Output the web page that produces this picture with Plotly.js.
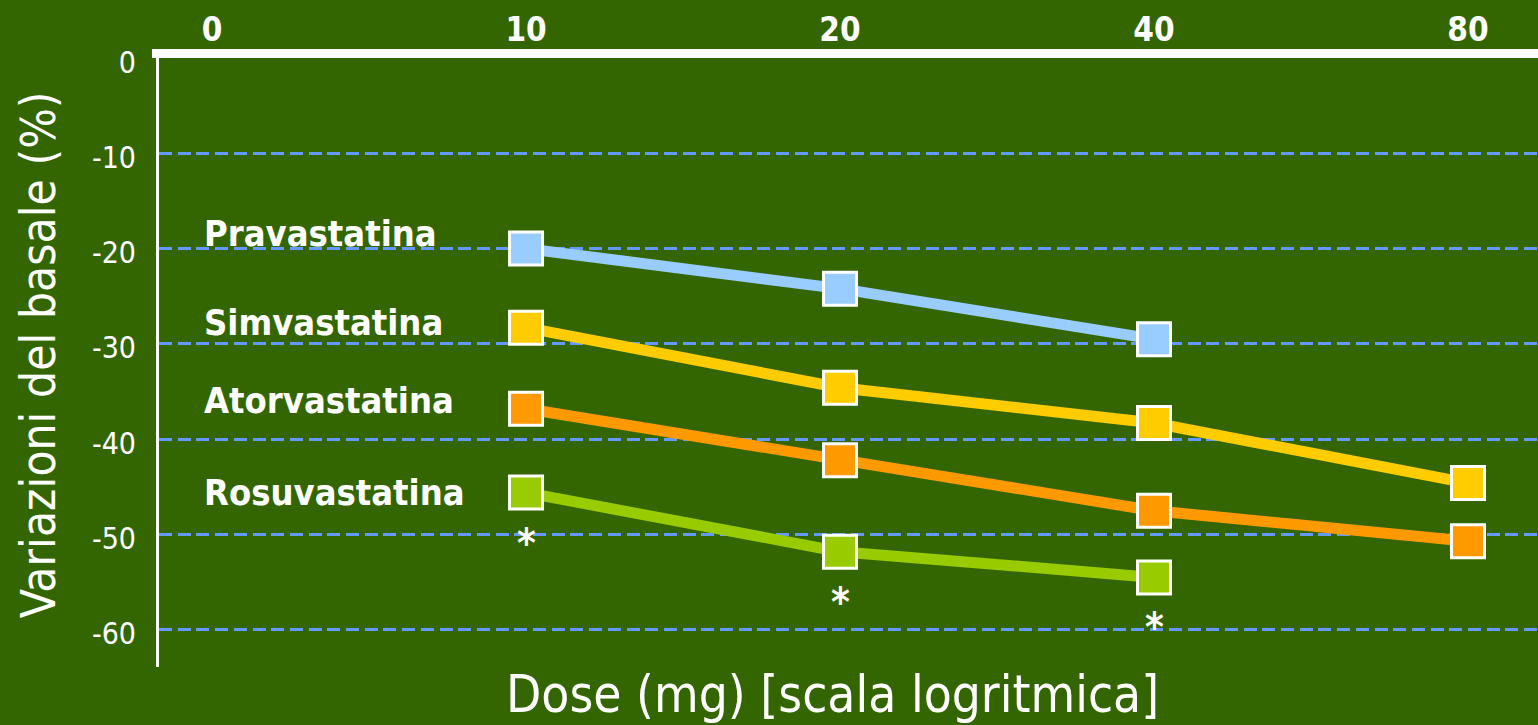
<!DOCTYPE html>
<html>
<head>
<meta charset="utf-8">
<script src="https://cdn.plot.ly/plotly-3.0.1.min.js"></script>
<style>
  html, body { margin: 0; padding: 0; background: #336600; }
  #chart { width: 1538px; height: 725px; }
</style>
</head>
<body>
<div id="chart"></div>
<script>
// Dose axis (log scale shown as evenly spaced steps)
const doseLabels = ['0', '10', '20', '40', '80'];
const doses = ['10', '20', '40', '80'];

// Percentage change from baseline per statin
const pravastatina = [-20.0, -24.2, -29.5];
const simvastatina = [-28.3, -34.6, -38.3, -44.6];
const atorvastatina = [-36.8, -42.2, -47.5, -50.7];
const rosuvastatina = [-45.6, -51.8, -54.5];

const yTicks = [0, -10, -20, -30, -40, -50, -60];

const seriesNames = ['Pravastatina', 'Simvastatina', 'Atorvastatina', 'Rosuvastatina'];
const seriesValues = [pravastatina, simvastatina, atorvastatina, rosuvastatina];
const seriesColors = ['#99CCFF', '#FFCC00', '#FF9900', '#99CC00'];

// Label heights (in axis units) for the series names on the left
const nameLabelY = [-18.4, -27.7, -35.9, -45.6];

const FONT = "'DejaVu Sans Condensed', 'DejaVu Sans', sans-serif";
const posOf = d => doseLabels.indexOf(d);

const traces = seriesValues.map((vals, i) => ({
  type: 'scatter',
  mode: 'lines+markers',
  name: seriesNames[i],
  x: doses.slice(0, vals.length).map(posOf),
  y: vals,
  line: { color: seriesColors[i], width: 11 },
  marker: { symbol: 'square', size: 33, color: seriesColors[i], line: { color: '#FFFFFF', width: 3 } },
  hoverinfo: 'x+y'
}));

const annotations = [];
seriesNames.forEach((n, i) => {
  annotations.push({
    text: '<b>' + n + '</b>', xref: 'paper', yref: 'y', x: 0.031, y: nameLabelY[i],
    xanchor: 'left', yanchor: 'middle', showarrow: false,
    font: { family: FONT, size: 36, color: '#FFFFFF' }
  });
});
// Significance marks under the rosuvastatin points
rosuvastatina.forEach((v, i) => {
  annotations.push({
    text: '<b>*</b>', xref: 'x', yref: 'y', x: posOf(doses[i]), y: v, yshift: -50,
    xanchor: 'center', yanchor: 'middle', showarrow: false,
    font: { family: FONT, size: 40, color: '#FFFFFF' }
  });
});
annotations.push({
  text: 'Variazioni del basale (%)', xref: 'paper', yref: 'paper', x: -0.0877, y: 0.512,
  xanchor: 'center', yanchor: 'middle', textangle: -90, showarrow: false,
  font: { family: FONT, size: 47.5, color: '#FFFFFF' }
});
annotations.push({
  text: 'Dose (mg) [scala logritmica]', xref: 'paper', yref: 'paper', x: 0.4885, y: -0.045,
  xanchor: 'center', yanchor: 'middle', showarrow: false,
  font: { family: FONT, size: 51, color: '#FFFFFF' }
});

const layout = {
  width: 1538, height: 725,
  paper_bgcolor: '#336600', plot_bgcolor: '#336600',
  margin: { l: 159, r: 0, t: 58, b: 58 },
  showlegend: false,
  font: { family: FONT, color: '#FFFFFF' },
  xaxis: {
    type: 'linear', side: 'top', range: [-0.169, 4.223],
    tickvals: doseLabels.map((d, i) => i), ticktext: doseLabels,
    showgrid: false, zeroline: false, ticks: '', showline: false,
    ticklabelstandoff: 9,
    tickfont: { family: FONT, size: 33, color: '#FFFFFF', weight: 'bold' }
  },
  yaxis: {
    range: [-63.9, 0],
    tickvals: yTicks, ticktext: yTicks.map(String),
    showgrid: true, gridcolor: '#6699FF', gridwidth: 3, griddash: '13px,5.7px',
    zeroline: false, ticks: '',
    showline: true, linecolor: '#FFFFFF', linewidth: 3,
    ticklabelstandoff: 14, ticklabelshift: 4,
    tickfont: { family: FONT, size: 30, color: '#FFFFFF' }
  },
  shapes: [
    // heavy top rule carrying the dose scale
    { type: 'line', xref: 'paper', yref: 'paper', x0: -0.0051, x1: 1, y0: 1.0074, y1: 1.0074,
      line: { color: '#FFFFFF', width: 9 }, layer: 'above' }
  ],
  annotations: annotations
};

Plotly.newPlot('chart', traces, layout, { displayModeBar: false, staticPlot: true });
</script>
</body>
</html>
